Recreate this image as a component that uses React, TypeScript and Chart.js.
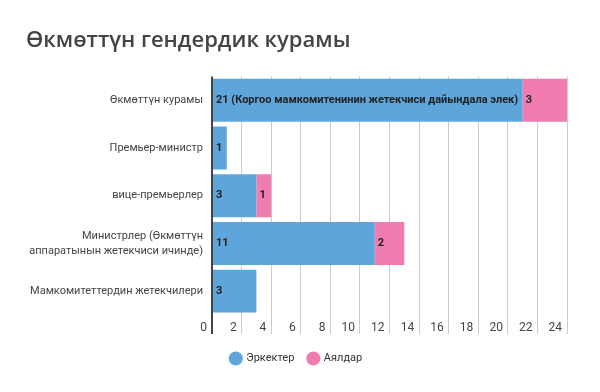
import React, { useEffect, useRef } from 'react';
import { Chart, registerables } from 'chart.js';

Chart.register(...registerables);

const titleText = 'Өкмөттүн гендердик курамы';
const categories: (string | string[])[] = [
  'Өкмөттүн курамы',
  'Премьер-министр',
  'вице-премьерлер',
  ['Министрлер (Өкмөттүн', 'аппаратынын жетекчиси ичинде)'],
  'Мамкомитеттердин жетекчилери',
];
const seriesNames = ['Эркектер', 'Аялдар'];
const maleValues = [21, 1, 3, 11, 3];
const femaleValues = [3, null, 1, 2, null];
const maleLabels = ['21 (Коргоо мамкомитенинин жетекчиси дайындала элек)', '1', '3', '11', '3'];
const femaleLabels = ['3', '', '1', '2', ''];
const xMax = 24;
const xStep = 2;

const TITLE_FONT = '"Open Sans", "Noto Sans", sans-serif';
const FONT = 'Roboto, "Noto Sans", sans-serif';

const barLabelPlugin = {
  id: 'barLabels',
  afterDatasetsDraw(chart: any) {
    const ctx = chart.ctx;
    const all = [maleLabels, femaleLabels];
    chart.data.datasets.forEach((_ds: any, i: number) => {
      const meta = chart.getDatasetMeta(i);
      meta.data.forEach((bar: any, j: number) => {
        const text = all[i][j];
        if (!text) return;
        const p = bar.getProps(['x', 'y', 'base'], true);
        ctx.save();
        ctx.font = `bold 11px ${FONT}`;
        ctx.fillStyle = '#222';
        ctx.textAlign = 'left';
        ctx.textBaseline = 'middle';
        ctx.fillText(text, Math.min(p.x, p.base) + 3, p.y);
        ctx.restore();
      });
    });
  },
};

export default function App() {
  const ref = useRef<HTMLCanvasElement>(null);
  useEffect(() => {
    if (!ref.current) return;
    const chart = new Chart(ref.current, {
      type: 'bar',
      data: {
        labels: categories as any,
        datasets: [
          {
            label: seriesNames[0],
            data: maleValues as any,
            backgroundColor: '#5DA5DA',
            borderWidth: 0,
            categoryPercentage: 0.9,
            barPercentage: 1,
          },
          {
            label: seriesNames[1],
            data: femaleValues as any,
            backgroundColor: '#F17CB0',
            borderWidth: 0,
            categoryPercentage: 0.9,
            barPercentage: 1,
          },
        ],
      },
      options: {
        indexAxis: 'y',
        animation: false,
        responsive: true,
        maintainAspectRatio: false,
        layout: { padding: { left: 26, right: 33, top: 0, bottom: 18 } },
        scales: {
          x: {
            stacked: true,
            min: 0,
            max: xMax,
            position: 'bottom',
            border: { display: false },
            grid: {
              color: (c: any) => (c.tick && c.tick.value === 0 ? '#444' : '#ccc'),
              lineWidth: (c: any) => (c.tick && c.tick.value === 0 ? 2 : 1),
              drawTicks: true,
              tickLength: 19,
            },
            ticks: {
              stepSize: xStep,
              align: 'end',
              padding: -13,
              color: '#444',
              font: { family: FONT, size: 12 },
              callback: (v: any) => `${v}\u2009\u2009`,
            },
            afterFit: (s: any) => {
              s.height = 24;
            },
          },
          y: {
            stacked: true,
            border: { display: false },
            grid: { display: false, drawTicks: false },
            ticks: {
              padding: 9,
              color: '#444',
              font: { family: FONT, size: 11, lineHeight: 1.35 },
            },
            afterFit: (s: any) => {
              s.width = 186;
            },
          },
        },
        plugins: {
          title: {
            display: true,
            text: titleText,
            align: 'start',
            color: '#444',
            font: { family: TITLE_FONT, size: 22, weight: '600' },
            padding: { top: 28, bottom: 22 },
          },
          legend: {
            position: 'bottom',
            labels: {
              usePointStyle: true,
              pointStyle: 'circle',
              boxWidth: 10,
              boxHeight: 10,
              padding: 14,
              color: '#333',
              font: { family: FONT, size: 11 },
            },
          },
          tooltip: { enabled: false },
        },
      },
      plugins: [barLabelPlugin],
    } as any);
    return () => chart.destroy();
  }, []);
  return (
    <div style={{ position: 'absolute', left: 0, top: 0, width: 600, height: 392, background: '#fff' }}>
      <canvas ref={ref} />
    </div>
  );
}
